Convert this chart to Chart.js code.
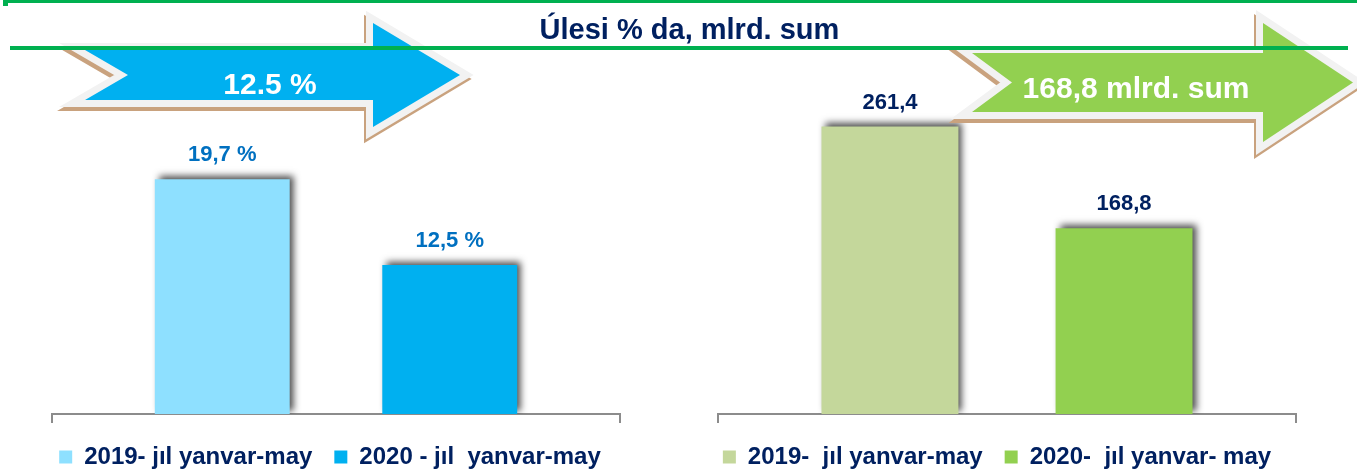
<!DOCTYPE html>
<html>
<head>
<meta charset="utf-8">
<script src="https://cdn.jsdelivr.net/npm/chart.js@4.4.1/dist/chart.umd.min.js"></script>
<style>
  body { margin: 0; background: #fff; }
  #wrap { position: relative; width: 1357px; height: 473px; overflow: hidden; }
  .box { position: absolute; top: 0; height: 479px; }
  .gline { position: absolute; background: #00b050; z-index: 3; }
  #title {
    position: absolute; z-index: 4; left: 0; width: 1379px; top: 13px;
    text-align: center; font: bold 29px 'Liberation Sans', Arial, sans-serif; color: #002060;
  }
</style>
</head>
<body>
<div id="wrap">
  <div class="box" style="left:0;width:680px"><canvas id="chartLeft"></canvas></div>
  <div class="box" style="left:680px;width:677px"><canvas id="chartRight"></canvas></div>
  <div class="gline" style="left:3px;top:0;width:5px;height:6px"></div>
  <div class="gline" style="left:8px;top:0;width:1349px;height:3px"></div>
  <div class="gline" style="left:10px;top:46px;width:1338px;height:4px"></div>
  <div id="title">Úlesi % da, mlrd. sum</div>
</div>
<script>
// dannye
var categories = [''];
var periodsLeft = ['2019- jıl yanvar-may', '2020 - jıl  yanvar-may'];
var shareValues = [19.7, 12.5];
var periodsRight = ['2019-  jıl yanvar-may', '2020-  jıl yanvar- may'];
var sumValues = [261.4, 168.8];

var colorsLeft = ['#8ee0ff', '#00b0f0'];
var colorsRight = ['#c4d79b', '#92d050'];

var sans = "'Liberation Sans', Arial, sans-serif";

function comma(v) { return v.toFixed(1).replace('.', ','); }

function arrowPath(ctx, a) {
  ctx.beginPath();
  ctx.moveTo(a.x0, a.yc - a.bh);
  ctx.lineTo(a.xh, a.yc - a.bh);
  ctx.lineTo(a.xh, a.yc - a.hh);
  ctx.lineTo(a.xt, a.yc);
  ctx.lineTo(a.xh, a.yc + a.hh);
  ctx.lineTo(a.xh, a.yc + a.bh);
  ctx.lineTo(a.x0, a.yc + a.bh);
  ctx.lineTo(a.xn, a.yc);
  ctx.closePath();
}

function drawArrow(ctx, a) {
  ctx.save();
  ctx.lineJoin = 'miter';
  ctx.miterLimit = 4;
  // ten'
  ctx.save();
  ctx.translate(-2, 4);
  arrowPath(ctx, a);
  ctx.fillStyle = '#c9a27e';
  ctx.strokeStyle = '#c9a27e';
  ctx.lineWidth = 14;
  ctx.stroke();
  ctx.fill();
  ctx.restore();
  // kontur i zalivka
  arrowPath(ctx, a);
  ctx.strokeStyle = '#f2f2f2';
  ctx.lineWidth = 14;
  ctx.stroke();
  ctx.fillStyle = a.color;
  ctx.fill();
  ctx.fillStyle = '#ffffff';
  ctx.font = 'bold 30px ' + sans;
  ctx.textAlign = 'center';
  ctx.textBaseline = 'middle';
  ctx.fillText(a.text, a.tx, a.ty);
  ctx.restore();
}

function decorPlugin(arrow, labelColor, fmt) {
  return {
    id: 'decor',
    beforeDatasetsDraw: function (chart) {
      var ctx = chart.ctx;
      ctx.save();
      ctx.shadowColor = 'rgba(0,0,0,0.7)';
      ctx.shadowBlur = 7;
      ctx.shadowOffsetX = 4;
      ctx.shadowOffsetY = -3;
    },
    afterDatasetsDraw: function (chart) {
      var ctx = chart.ctx;
      ctx.restore();
      ctx.save();
      ctx.font = 'bold 22px ' + sans;
      ctx.fillStyle = labelColor;
      ctx.textAlign = 'center';
      ctx.textBaseline = 'middle';
      chart.data.datasets.forEach(function (ds, i) {
        chart.getDatasetMeta(i).data.forEach(function (bar, j) {
          ctx.fillText(fmt(ds.data[j]), bar.x, bar.y - 24);
        });
      });
      ctx.restore();
    },
    afterDraw: function (chart) {
      drawArrow(chart.ctx, arrow);
    }
  };
}

// nevidimye osi zadayut otstupy oblasti grafika
function spacer(pos, w) {
  return {
    type: 'linear', position: pos, display: true,
    ticks: { display: false }, grid: { display: false }, border: { display: false },
    afterFit: function (s) { s.width = w; }
  };
}

function makeOptions(maxY, padL, padR, wL, wR, padT) {
  var yAxis = spacer('left', wL);
  yAxis.min = 0;
  yAxis.max = maxY;
  return {
    responsive: true,
    maintainAspectRatio: false,
    animation: false,
    layout: { padding: { left: padL, right: padR, top: padT, bottom: 0 } },
    datasets: { bar: { borderWidth: 0 } },
    scales: {
      x: {
        ticks: { display: false },
        grid: { offset: true, drawOnChartArea: false, tickLength: 9, color: '#8c8c8c', lineWidth: 2 },
        border: { color: '#8c8c8c', width: 2 }
      },
      y: yAxis,
      yr: spacer('right', wR)
    },
    plugins: {
      tooltip: { enabled: false },
      legend: {
        position: 'bottom',
        labels: {
          boxWidth: 13, boxHeight: 13, padding: 22,
          color: '#002060',
          font: { family: sans, size: 24, weight: 'bold' },
          generateLabels: function (chart) {
            return Chart.defaults.plugins.legend.labels.generateLabels(chart).map(function (l) {
              l.strokeStyle = l.fillStyle; l.lineWidth = 0; return l;
            });
          }
        }
      }
    }
  };
}

function makeDatasets(names, values, colors, cp, bp) {
  return names.map(function (n, i) {
    return { label: n, data: [values[i]], backgroundColor: colors[i], categoryPercentage: cp, barPercentage: bp };
  });
}

new Chart(document.getElementById('chartLeft'), {
  type: 'bar',
  data: { labels: categories, datasets: makeDatasets(periodsLeft, shareValues, colorsLeft, 0.801, 0.593) },
  options: makeOptions(25, 0, 20, 52, 40, 116),
  plugins: [decorPlugin(
    { x0: 85, xn: 128, xh: 373, xt: 460, yc: 75, bh: 25, hh: 52, color: '#00b0f0',
      text: shareValues[1].toFixed(1) + ' %', tx: 270, ty: 86 },
    '#0070c0', function (v) { return comma(v) + ' %'; })]
});

new Chart(document.getElementById('chartRight'), {
  type: 'bar',
  data: { labels: categories, datasets: makeDatasets(periodsRight, sumValues, colorsRight, 0.81, 0.585) },
  options: makeOptions(300, 0, 43, 38, 18, 84),
  plugins: [decorPlugin(
    { x0: 292, xn: 332, xh: 583, xt: 673, yc: 82.5, bh: 29.5, hh: 59.5, color: '#92d050',
      text: comma(sumValues[1]) + ' mlrd. sum', tx: 456, ty: 90 },
    '#002060', comma)]
});
</script>
</body>
</html>
